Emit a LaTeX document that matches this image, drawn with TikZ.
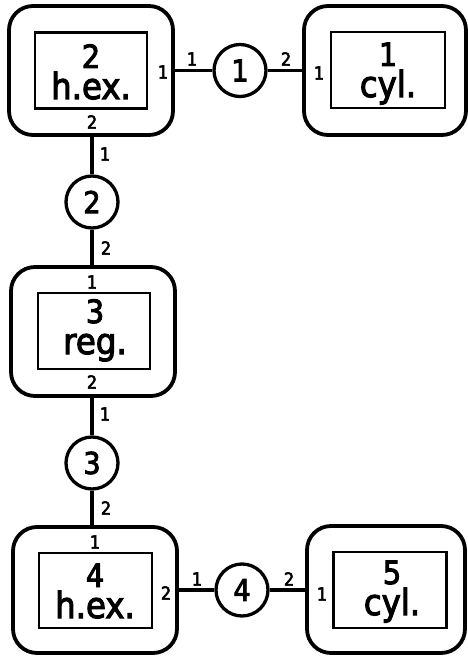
\documentclass[tikz,border=0pt]{standalone}
\usepackage{fontspec}
\setmainfont[FakeStretch=0.9,FakeBold=3]{DejaVu Sans}
\begin{document}
\begin{tikzpicture}[x=1pt,y=-1pt,
  unit/.style={draw, line width=3.8pt, rounded corners=24pt, minimum width=164pt, minimum height=129pt, inner sep=0pt},
  core/.style={draw, line width=2.2pt, minimum width=112pt, minimum height=76pt, inner sep=0pt},
  port/.style={circle, draw, line width=3.3pt, fill=white, minimum size=52pt, inner sep=0pt, font=\fontsize{30}{30}\selectfont},
  link/.style={line width=3.4pt},
  tag/.style={anchor=base, inner sep=0pt, align=center, font=\fontsize{36}{31}\selectfont},
  pin/.style={inner sep=0pt, font=\fontsize{18}{18}\selectfont}]
\useasboundingbox (0,0) rectangle (468,658);
\newcommand{\bigdigit}[1]{{\fontsize{32}{31}\selectfont #1}}

% component blocks
\node[unit] (u1) at (91,70.5) {};
\node[core] (k1) at (91,70.5) {};
\node[tag]  (t1) at (91,99) {\bigdigit{2}\\h.ex.};

\node[unit, minimum width=162pt] (u2) at (385,70.5) {};
\node[core, minimum width=114pt] (k2) at (388,70) {};
\node[tag]  (t2) at (388,97) {\bigdigit{1}\\cyl.};

\node[unit] (u3) at (93,331.5) {};
\node[core] (k3) at (94,331) {};
\node[tag]  (t3) at (95,354) {\bigdigit{3}\\reg.};

\node[unit, minimum height=126pt] (u4) at (95,590) {};
\node[core, minimum width=113pt, minimum height=75pt] (k4) at (95.5,590.5) {};
\node[tag]  (t4) at (95,618) {\bigdigit{4}\\h.ex.};

\node[unit, minimum width=158pt, minimum height=127pt] (u5) at (386,589.5) {};
\node[core, minimum width=113pt, minimum height=76pt] (k5) at (390,590) {};
\node[tag]  (t5) at (392,615) {\bigdigit{5}\\cyl.};

% connection ports
\node[port] (c1) at (240,70.5) {1};
\node[port] (c2) at (92,202) {2};
\node[port] (c3) at (92,463) {3};
\node[port] (c4) at (242,590) {4};

% connectors
\draw[link] (u1.east) -- (c1);
\draw[link] (c1) -- (u2.west);
\draw[link] (u1.south -| c2) -- (c2);
\draw[link] (c2) -- (u3.north -| c2);
\draw[link] (u3.south -| c3) -- (c3);
\draw[link] (c3) -- (u4.north -| c3);
\draw[link] (u4.east |- c4) -- (c4);
\draw[link] (c4) -- (u5.west |- c4);

% port numbers
\node[pin] (p1) at (163,72) {1};
\node[pin] (p2) at (192,59) {1};
\node[pin] (p3) at (286,59) {2};
\node[pin] (p4) at (319,73) {1};
\node[pin] (p5) at (92,122) {2};
\node[pin] (p6) at (105,154) {1};
\node[pin] (p7) at (106,248) {2};
\node[pin] (p8) at (92,282) {1};
\node[pin] (p9) at (92,382) {2};
\node[pin] (p10) at (105,414) {1};
\node[pin] (p11) at (106,508) {2};
\node[pin] (p12) at (95,542) {1};
\node[pin] (p13) at (166,593) {2};
\node[pin] (p14) at (197,579) {1};
\node[pin] (p15) at (289,579) {2};
\node[pin] (p16) at (322,594) {1};
\end{tikzpicture}
\end{document}
